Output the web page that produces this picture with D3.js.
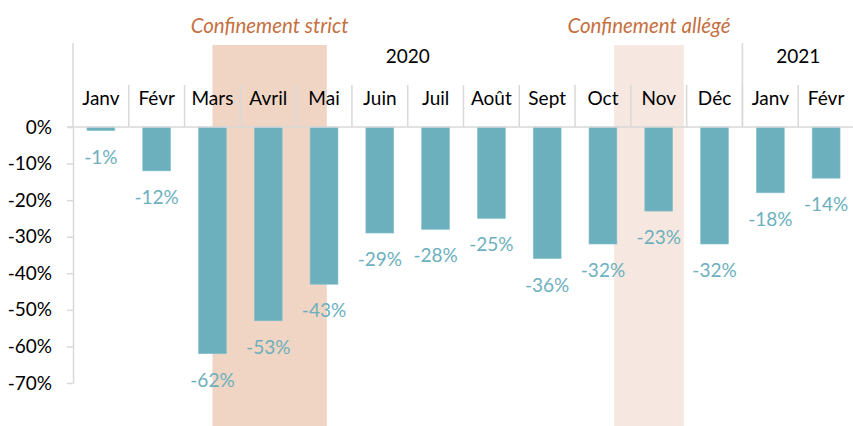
<!DOCTYPE html>
<html>
<head>
<meta charset="utf-8">
<script src="https://cdn.jsdelivr.net/npm/d3@7"></script>
<style>
  body { margin: 0; background: #fff; }
  text { font-family: Lato, "Open Sans", sans-serif; }
</style>
</head>
<body>
<div id="chart"></div>
<script>
// data
let months = ["Janv", "Févr", "Mars", "Avril", "Mai", "Juin", "Juil", "Août", "Sept", "Oct", "Nov", "Déc", "Janv", "Févr"];
let values = [-1, -12, -62, -53, -43, -29, -28, -25, -36, -32, -23, -32, -18, -14];
let years = [
    { label: "2020", start: 0, end: 12 },
    { label: "2021", start: 12, end: 14 }
];
let lockdowns = [
    { label: "Confinement strict", start: 2.5, end: 4.55, color: "#f0d5c4" },
    { label: "Confinement allégé", start: 9.7, end: 10.95, color: "#f6e8e0" }
];
let yTicks = [0, -10, -20, -30, -40, -50, -60, -70];

let width = 853, height = 426;
let plotLeft = 73, plotRight = 854, plotTop = 44, zeroY = 127, bottomY = 383;
let gridColor = "#d9d9d9";
let barColor = "#6cb0be";

let svg = d3.select("#chart").append("svg")
    .attr("width", width)
    .attr("height", height);

let idx = months.map((m, i) => i);
let xCell = d3.scaleBand().domain(idx).range([plotLeft, plotRight]);
let xBar = d3.scaleBand().domain(idx).range([plotLeft, plotRight]).paddingInner(0.5).paddingOuter(0.25);
let xPos = d3.scaleLinear().domain([0, months.length]).range([plotLeft, plotRight]);
let y = d3.scaleLinear().domain([-70, 0]).range([bottomY, zeroY]);

// lockdown bands
svg.selectAll()
    .data(lockdowns)
    .enter()
    .append("rect")
    .attr("x", d => xPos(d.start))
    .attr("y", plotTop + 1)
    .attr("width", d => xPos(d.end) - xPos(d.start))
    .attr("height", height - plotTop)
    .style("fill", d => d.color);

svg.selectAll()
    .data(lockdowns)
    .enter()
    .append("text")
    .attr("x", d => (xPos(d.start) + xPos(d.end)) / 2)
    .attr("y", 33)
    .attr("text-anchor", "middle")
    .attr("font-size", "20.5px")
    .attr("font-style", "italic")
    .style("fill", "#c5703f")
    .text(d => d.label);

// y axis
let yAxis = d3.axisLeft(y)
    .tickValues(yTicks)
    .tickSize(6)
    .tickSizeOuter(0)
    .tickFormat(d => d + "%");
let ga = svg.append("g")
    .attr("transform", `translate(${plotLeft},0)`)
    .call(yAxis);
ga.select(".domain").attr("stroke", gridColor).attr("stroke-width", 1.5);
ga.selectAll(".tick line").attr("stroke", gridColor).attr("stroke-width", 1.5);
ga.selectAll(".tick text")
    .attr("x", -21)
    .attr("font-size", "19px")
    .style("font-family", "Lato, sans-serif")
    .style("fill", "#000");

// bars
svg.selectAll()
    .data(values)
    .enter()
    .append("rect")
    .attr("x", (d, i) => xBar(i))
    .attr("y", y(0))
    .attr("width", xBar.bandwidth())
    .attr("height", d => y(d) - y(0))
    .style("fill", barColor)
    .style("stroke", "#8cc3ce")
    .style("stroke-width", 0.6);

svg.selectAll()
    .data(values)
    .enter()
    .append("text")
    .attr("x", (d, i) => xBar(i) + xBar.bandwidth() / 2)
    .attr("y", d => y(d) + 33)
    .attr("text-anchor", "middle")
    .attr("font-size", "19px")
    .style("fill", barColor)
    .text(d => d + "%");

// category header: month cells and year cells
svg.selectAll()
    .data(idx.slice(1))
    .enter()
    .append("line")
    .attr("x1", d => xCell(d))
    .attr("x2", d => xCell(d))
    .attr("y1", 85)
    .attr("y2", zeroY)
    .style("stroke", gridColor)
    .style("stroke-width", 1.5);

svg.selectAll()
    .data(years)
    .enter()
    .append("line")
    .attr("x1", d => xPos(d.start))
    .attr("x2", d => xPos(d.start))
    .attr("y1", 43)
    .attr("y2", zeroY)
    .style("stroke", gridColor)
    .style("stroke-width", 1.5);

svg.append("line")
    .attr("x1", plotLeft - 6)
    .attr("x2", plotRight)
    .attr("y1", zeroY)
    .attr("y2", zeroY)
    .style("stroke", gridColor)
    .style("stroke-width", 1.5);

svg.selectAll()
    .data(months)
    .enter()
    .append("text")
    .attr("x", (d, i) => xCell(i) + xCell.bandwidth() / 2)
    .attr("y", 105)
    .attr("text-anchor", "middle")
    .attr("font-size", "19px")
    .style("fill", "#000")
    .text(d => d);

svg.selectAll()
    .data(years)
    .enter()
    .append("text")
    .attr("x", d => (xPos(d.start) + xPos(d.end)) / 2)
    .attr("y", 63)
    .attr("text-anchor", "middle")
    .attr("font-size", "19px")
    .style("fill", "#000")
    .text(d => d.label);
</script>
</body>
</html>
